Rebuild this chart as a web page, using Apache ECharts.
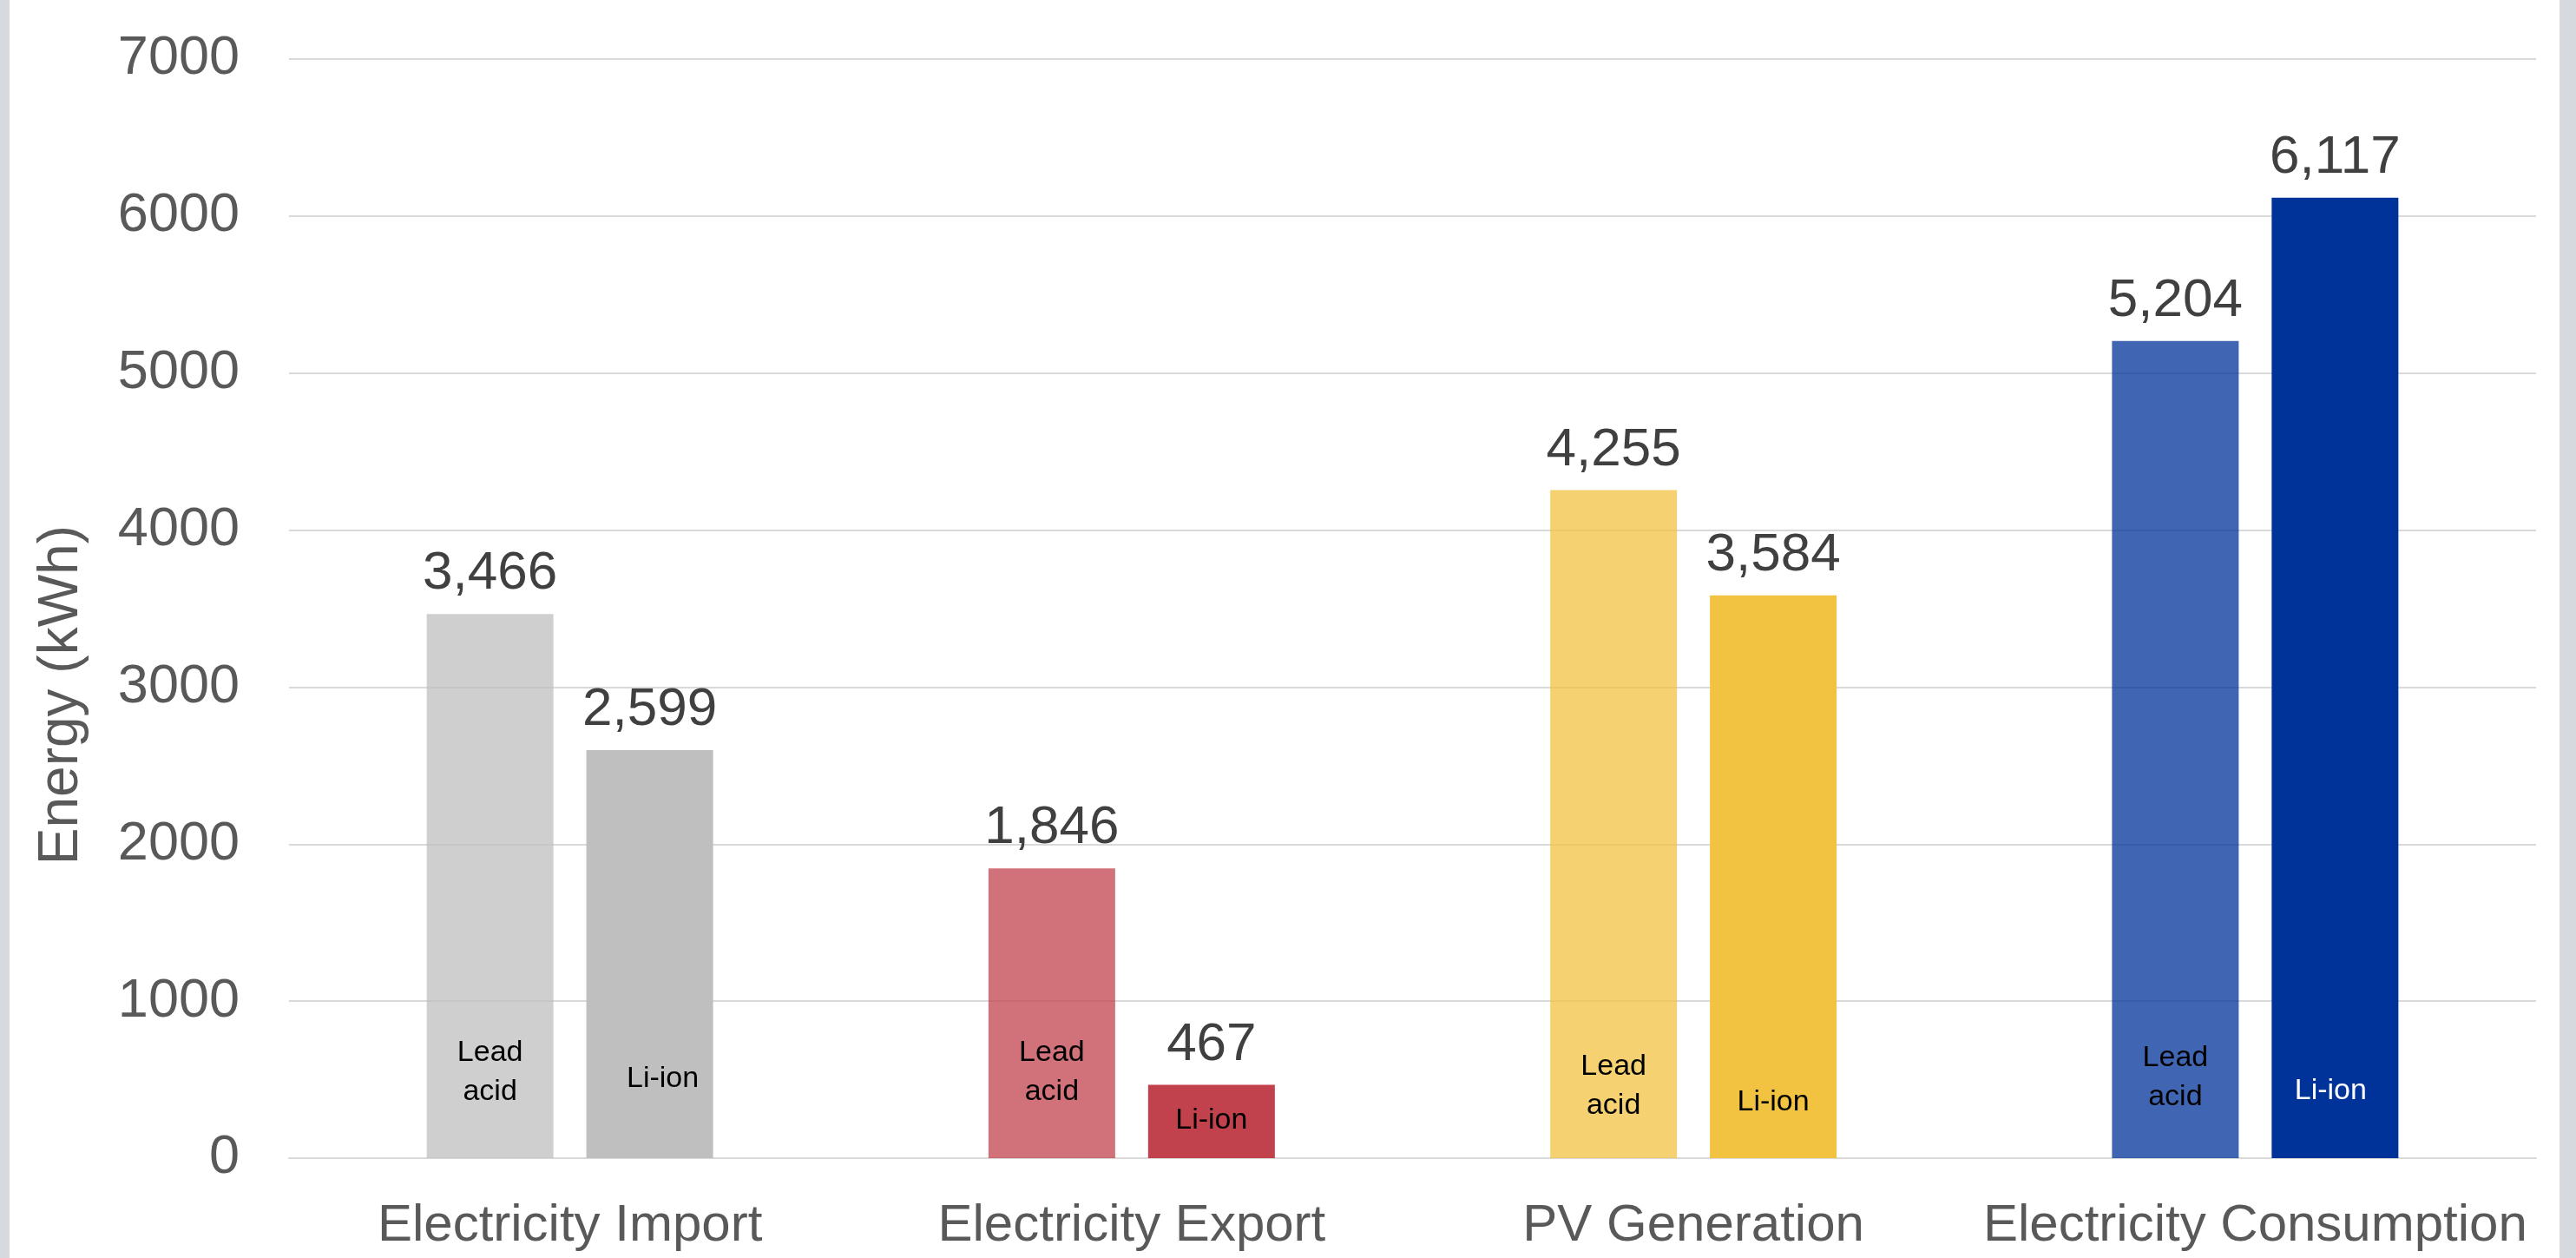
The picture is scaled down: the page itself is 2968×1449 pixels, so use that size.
<!DOCTYPE html>
<html>
<head>
<meta charset="utf-8">
<script src="https://cdn.jsdelivr.net/npm/echarts@6/dist/echarts.min.js"></script>
<style>
  html, body { margin: 0; padding: 0; background: #D6DADE; }
  #chart { position: absolute; left: 11px; top: 0; width: 2938px; height: 1449px; background: #ffffff; }
</style>
</head>
<body>
<div id="chart"></div>
<script>
const categories = ['Electricity Import', 'Electricity Export', 'PV Generation', 'Electricity Consumption'];
const leadAcid = [3466, 1846, 4255, 5204];
const liIon = [2599, 467, 3584, 6117];
const yTicks = { min: 0, max: 7000, interval: 1000 };
const yAxisTitle = 'Energy (kWh)';
const leadName = 'Lead\nacid';
const liName = 'Li-ion';

// styling
const liColors = ['#BFBFBF', '#C1414C', '#F2C241', '#003399'];
const liTextColors = ['#000000', '#000000', '#000000', '#FFFFFF'];
const leadLift = [54, 54, 38, 48];
const liLift = [71, 23, 44, 57];
const liShift = [15, 0, 0, -5];
const FONT = '"Liberation Sans", Arial, sans-serif';

function fade(hex, a) {
  const n = parseInt(hex.slice(1), 16);
  return 'rgba(' + ((n >> 16) & 255) + ',' + ((n >> 8) & 255) + ',' + (n & 255) + ',' + a + ')';
}
function fmt(v) { return v.toLocaleString('en-US'); }

const chart = echarts.init(document.getElementById('chart'), null, { renderer: 'canvas' });

const leadData = leadAcid.map((v, i) => ({ value: v, itemStyle: { color: fade(liColors[i], 0.75) } }));
const liData = liIon.map((v, i) => ({ value: v, itemStyle: { color: liColors[i] } }));

const valueLabel = {
  show: true, position: 'top', distance: 15,
  formatter: p => fmt(p.value),
  fontFamily: FONT, fontSize: 62, color: '#404040'
};

const BW = 146, GAP = '26%';

const option = {
  animation: false,
  grid: { left: 322, right: 27, top: 68, bottom: 115, containLabel: false },
  xAxis: [{
    type: 'category', data: categories,
    axisLine: { show: true, lineStyle: { color: '#D9D9D9', width: 2 } },
    axisTick: { show: false },
    axisLabel: { fontFamily: FONT, fontSize: 60, color: '#595959', margin: 48, interval: 0 }
  }, {
    type: 'category', data: categories, show: false
  }],
  yAxis: {
    type: 'value', min: yTicks.min, max: yTicks.max, interval: yTicks.interval,
    axisLine: { show: false }, axisTick: { show: false },
    splitLine: { lineStyle: { color: '#D9D9D9', width: 2 } },
    axisLabel: { fontFamily: FONT, fontSize: 63, color: '#595959', margin: 57, formatter: v => String(v) }
  },
  graphic: [{
    type: 'text', left: 28, top: 605, rotation: Math.PI / 2, z: 10,
    style: { text: yAxisTitle, font: '64px ' + FONT, fill: '#595959' }
  }],
  series: [
    { name: 'Lead acid', type: 'bar', data: leadData, barWidth: BW, barGap: GAP, label: valueLabel },
    { name: 'Li-ion', type: 'bar', data: liData, barWidth: BW, barGap: GAP, label: valueLabel },
    {
      name: 'Lead acid tag', type: 'bar', xAxisIndex: 1, barWidth: BW, barGap: GAP, silent: true,
      data: leadAcid.map((v, i) => ({ value: v, label: { distance: leadLift[i] } })),
      itemStyle: { color: 'rgba(0,0,0,0)' },
      label: { show: true, position: 'insideBottom', formatter: leadName,
        fontFamily: FONT, fontSize: 34, lineHeight: 45, color: '#000000' }
    },
    {
      name: 'Li-ion tag', type: 'bar', xAxisIndex: 1, barWidth: BW, barGap: GAP, silent: true,
      data: liIon.map((v, i) => ({ value: v, label: { distance: liLift[i], offset: [liShift[i], 0], color: liTextColors[i] } })),
      itemStyle: { color: 'rgba(0,0,0,0)' },
      label: { show: true, position: 'insideBottom', formatter: liName,
        fontFamily: FONT, fontSize: 34, lineHeight: 40, color: '#000000' }
    }
  ]
};
chart.setOption(option);
</script>
</body>
</html>
